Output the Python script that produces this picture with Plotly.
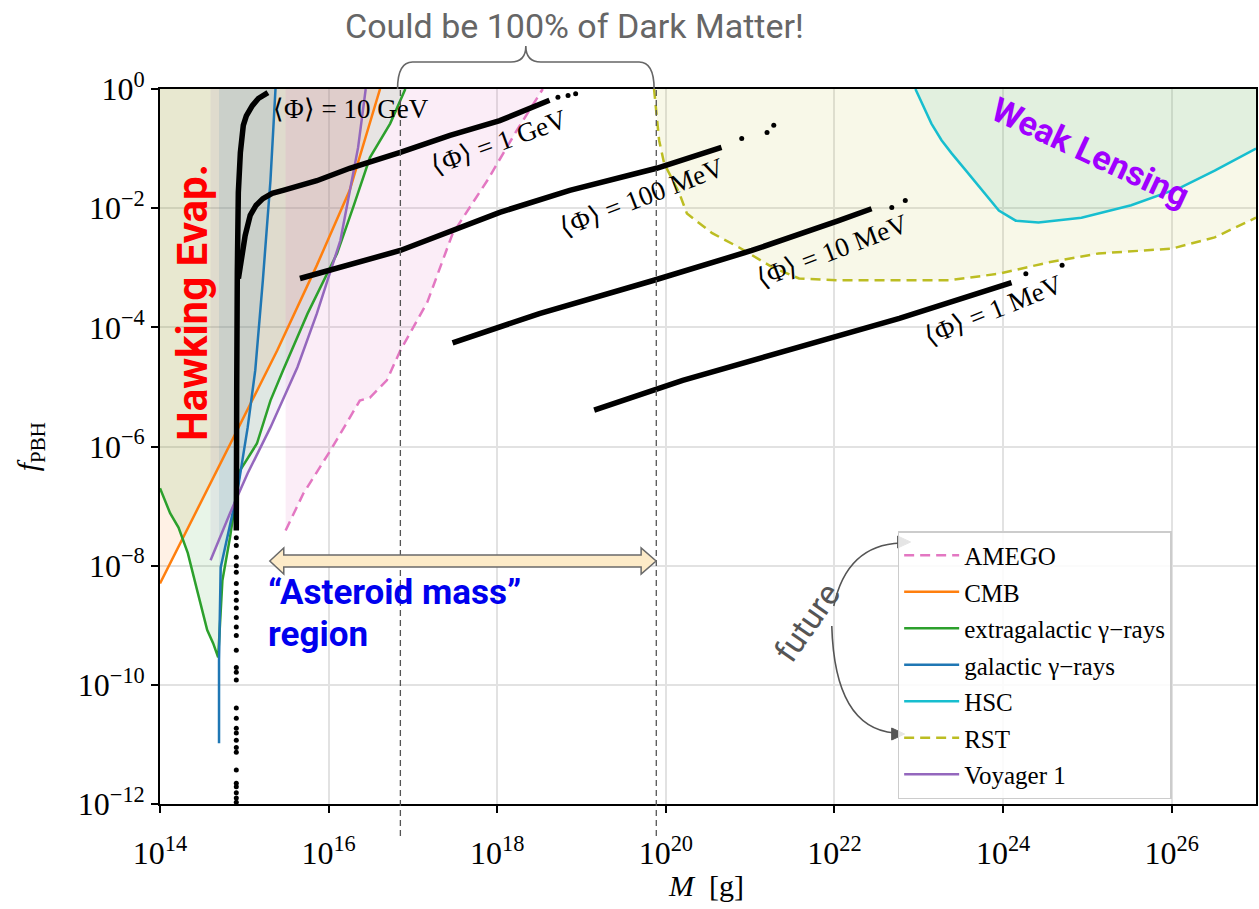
import plotly.graph_objects as go

# ---------------- data (log10 M [g], log10 f_PBH) ----------------
amego_logM = [15.49, 15.70, 16.02, 16.37, 16.49, 16.69, 16.85, 17.17, 17.47, 17.88, 18.23, 18.54]
amego_logf = [-7.41, -6.79, -6.07, -5.23, -5.18, -4.89, -4.39, -3.58, -2.43, -1.54, -0.70, 0.0]

cmb_logM = [14.0, 14.89, 15.39, 15.86, 16.25, 16.61]
cmb_logf = [-8.30, -5.81, -4.39, -2.96, -1.70, 0.0]

egal_logM = [14.0, 14.12, 14.22, 14.33, 14.44, 14.56, 14.63, 14.69, 14.74, 14.83, 14.95,
             15.15, 15.31, 15.46, 15.75, 16.10, 16.29, 16.49, 16.73, 16.91]
egal_logf = [-6.70, -7.12, -7.36, -7.79, -8.41, -9.08, -9.30, -9.54, -8.25, -7.53, -6.40,
             -5.95, -5.23, -4.72, -3.77, -2.76, -1.99, -1.15, -0.58, 0.0]

gal_logM = [14.70, 14.70, 14.72, 14.80, 14.92, 15.04, 15.13, 15.22, 15.31, 15.37]
gal_logf = [-10.98, -9.59, -8.03, -7.53, -6.74, -5.68, -4.72, -3.21, -1.54, 0.0]

hsc_logM = [22.96, 23.15, 23.27, 23.39, 23.56, 23.75, 23.95, 24.15, 24.42, 24.93, 25.52, 26.11, 26.51, 27.0]
hsc_logf = [0.0, -0.58, -0.86, -1.08, -1.37, -1.70, -2.04, -2.21, -2.24, -2.16, -1.95, -1.65, -1.37, -1.00]

rst_logM = [19.86, 19.89, 19.92, 19.98, 20.08, 20.16, 20.25, 20.55, 20.87, 21.26, 21.58, 22.05,
            22.76, 23.36, 23.95, 24.54, 25.13, 26.00, 26.51, 27.0]
rst_logf = [0.0, -0.41, -0.86, -1.25, -1.54, -1.75, -2.09, -2.42, -2.66, -2.99, -3.18, -3.21,
            -3.21, -3.21, -3.10, -2.91, -2.76, -2.68, -2.49, -2.16]

voy_logM = [14.60, 14.83, 15.04, 15.31, 15.63, 15.86, 16.14, 16.25, 16.35, 16.44]
voy_logf = [-7.91, -7.12, -6.45, -5.68, -4.67, -3.77, -2.54, -1.70, -0.98, 0.0]

# <Phi> curves (black scatter bands)
phi10GeV_logM = [15.28, 15.166, 15.095, 15.024, 14.988, 14.964, 14.953, 14.929, 14.929, 14.917, 14.910, 14.905]
phi10GeV_logf = [-0.06, -0.16, -0.28, -0.45, -0.61, -0.83, -1.07, -1.74, -2.46, -3.08, -5.00, -7.41]
phi10GeV_dots_logM = [14.905] * 29
phi10GeV_dots_logf = [-7.53, -7.66, -7.86, -8.00, -8.11, -8.30, -8.45, -8.58, -8.71, -8.87,
                      -9.03, -9.17, -9.42, -9.71, -9.79, -9.92, -10.39, -10.56, -10.73, -10.81,
                      -10.93, -11.05, -11.13, -11.43, -11.65, -11.71, -11.81, -11.90, -11.97]

phi1GeV_logM = [14.93, 14.964, 15.01, 15.07, 15.14, 15.22, 15.33, 15.46, 15.66, 15.86, 16.25,
                16.85, 17.44, 18.03, 18.62]
phi1GeV_logf = [-3.18, -2.84, -2.46, -2.12, -1.95, -1.84, -1.75, -1.70, -1.62, -1.54, -1.33,
                -1.065, -0.78, -0.53, -0.19]
phi1GeV_dots_logM = [18.72, 18.84, 18.93]
phi1GeV_dots_logf = [-0.14, -0.11, -0.08]

phi100MeV_logM = [15.66, 16.85, 18.03, 18.86, 19.89, 20.66]
phi100MeV_logf = [-3.18, -2.71, -2.07, -1.70, -1.33, -0.98]
phi100MeV_dots_logM = [20.90, 21.20, 21.28]
phi100MeV_dots_logf = [-0.83, -0.73, -0.61]

phi10MeV_logM = [17.47, 18.50, 19.86, 21.02, 22.05, 22.44]
phi10MeV_logf = [-4.26, -3.77, -3.21, -2.71, -2.21, -2.01]
phi10MeV_dots_logM = [22.68, 22.84]
phi10MeV_dots_logf = [-1.99, -1.87]

phi1MeV_logM = [19.15, 20.20, 22.77, 24.10]
phi1MeV_logf = [-5.39, -4.89, -3.85, -3.25]
phi1MeV_dots_logM = [24.27, 24.70]
phi1MeV_dots_logf = [-3.10, -2.96]

dm_window_M = [7.1e16, 7.7e19]          # dashed "asteroid mass" window edges

x_tickvals = [1e14, 1e16, 1e18, 1e20, 1e22, 1e24, 1e26]
x_ticktext = ["10<sup>14</sup>", "10<sup>16</sup>", "10<sup>18</sup>", "10<sup>20</sup>",
              "10<sup>22</sup>", "10<sup>24</sup>", "10<sup>26</sup>"]
y_tickvals = [1e0, 1e-2, 1e-4, 1e-6, 1e-8, 1e-10, 1e-12]
y_ticktext = ["10<sup>0</sup>", "10<sup>\u22122</sup>", "10<sup>\u22124</sup>", "10<sup>\u22126</sup>",
              "10<sup>\u22128</sup>", "10<sup>\u221210</sup>", "10<sup>\u221212</sup>"]

# ---------------- styling ----------------
W, H = 1259, 909
L, R, T, B = 160, 1258, 89, 804
SERIF = "Liberation Serif"
SANS = "Roboto"

C_PINK, C_ORANGE, C_GREEN = "#e377c2", "#ff7f0e", "#2ca02c"
C_BLUE, C_CYAN, C_OLIVE, C_PURPLE = "#1f77b4", "#17becf", "#bcbd22", "#9467bd"


def PX(x):
    return (x - L) / (R - L)


def PY(y):
    return (B - y) / (B - T)


def tolin(v):
    return [10 ** a for a in v]


fig = go.Figure()

# filled excluded regions (above each curve up to f = 1)
fills = [
    (cmb_logM, cmb_logf, "rgba(255,127,14,0.11)"),
    (egal_logM, egal_logf, "rgba(44,160,44,0.11)"),
    (voy_logM, voy_logf, "rgba(148,103,189,0.10)"),
    (gal_logM, gal_logf, "rgba(31,119,180,0.10)"),
    (amego_logM, amego_logf, "rgba(227,119,194,0.13)"),
    (rst_logM, rst_logf, "rgba(188,189,34,0.10)"),
    (hsc_logM, hsc_logf, "rgba(40,180,150,0.10)"),
]
for lm, lf, fc in fills:
    xs = tolin(lm) + [10 ** lm[-1], 10 ** lm[0]]
    ys = tolin(lf) + [1.0, 1.0]
    fig.add_trace(go.Scatter(x=xs, y=ys, mode="lines", line=dict(width=0), fill="toself",
                             fillcolor=fc, showlegend=False, hoverinfo="skip"))

# constraint curves (legend order)
curves = [
    ("AMEGO", amego_logM, amego_logf, C_PINK, "10px,6px"),
    ("CMB", cmb_logM, cmb_logf, C_ORANGE, "solid"),
    ("extragalactic \u03b3\u2212rays", egal_logM, egal_logf, C_GREEN, "solid"),
    ("galactic \u03b3\u2212rays", gal_logM, gal_logf, C_BLUE, "solid"),
    ("HSC", hsc_logM, hsc_logf, C_CYAN, "solid"),
    ("RST", rst_logM, rst_logf, C_OLIVE, "10px,6px"),
    ("Voyager 1", voy_logM, voy_logf, C_PURPLE, "solid"),
]
for i, (name, lm, lf, col, dash) in enumerate(curves):
    fig.add_trace(go.Scatter(x=tolin(lm), y=tolin(lf), mode="lines", name=name,
                             legendgroup="g%d" % i,
                             line=dict(color=col, width=2.5, dash=dash)))

# black <Phi> bands
bands = [
    (phi10GeV_logM, phi10GeV_logf, [], []),
    (phi1GeV_logM, phi1GeV_logf, phi1GeV_dots_logM, phi1GeV_dots_logf),
    (phi100MeV_logM, phi100MeV_logf, phi100MeV_dots_logM, phi100MeV_dots_logf),
    (phi10MeV_logM, phi10MeV_logf, phi10MeV_dots_logM, phi10MeV_dots_logf),
    (phi1MeV_logM, phi1MeV_logf, phi1MeV_dots_logM, phi1MeV_dots_logf),
]
for lm, lf, dm, df in bands:
    fig.add_trace(go.Scatter(x=tolin(lm), y=tolin(lf), mode="lines",
                             line=dict(color="black", width=5.5),
                             showlegend=False, hoverinfo="skip"))
    if dm:
        fig.add_trace(go.Scatter(x=tolin(dm), y=tolin(df), mode="markers",
                                 marker=dict(color="black", size=5),
                                 showlegend=False, hoverinfo="skip"))
fig.add_trace(go.Scatter(x=tolin(phi10GeV_dots_logM), y=tolin(phi10GeV_dots_logf), mode="markers",
                         marker=dict(color="black", size=5), showlegend=False, hoverinfo="skip"))

shapes = []
# dashed window lines
for m in dm_window_M:
    shapes.append(dict(type="line", xref="x", yref="paper", x0=m, x1=m, y0=PY(836), y1=1,
                       line=dict(color="#555555", width=1.3, dash="6px,4px"), layer="above"))

# curly brace above the plot
bl, br, bt = 398, 655, 62
mid = (bl + br) / 2
brace = ("M {},{} Q {},{} {},{} L {},{} Q {},{} {},{} Q {},{} {},{} L {},{} Q {},{} {},{}"
         .format(PX(bl), PY(89), PX(bl), PY(bt), PX(bl + 15), PY(bt),
                 PX(mid - 15), PY(bt), PX(mid), PY(bt), PX(mid), PY(46),
                 PX(mid), PY(bt), PX(mid + 15), PY(bt),
                 PX(br - 15), PY(bt), PX(br), PY(bt), PX(br), PY(89)))
shapes.append(dict(type="path", xref="paper", yref="paper", path=brace,
                   line=dict(color="#666666", width=1.6)))

# double-headed arrow
yc = 561
pts = [(270, yc), (284, yc - 13), (284, yc - 6), (642, yc - 6), (642, yc - 13), (657, yc),
       (642, yc + 13), (642, yc + 6), (284, yc + 6), (284, yc + 13)]
arrow = "M " + " L ".join("{},{}".format(PX(a), PY(b)) for a, b in pts) + " Z"
shapes.append(dict(type="path", xref="paper", yref="paper", path=arrow,
                   fillcolor="#fdebc8", line=dict(color="#6a6a6a", width=1.5), layer="above"))

# curved "future" arrows
up = "M {},{} Q {},{} {},{}".format(PX(835), PY(606), PX(848), PY(545), PX(902), PY(543))
dn = "M {},{} Q {},{} {},{}".format(PX(833), PY(626), PX(836), PY(728), PX(896), PY(733))
for p in (up, dn):
    shapes.append(dict(type="path", xref="paper", yref="paper", path=p,
                       line=dict(color="#555555", width=1.6), layer="above"))
for (tx, ty) in [(912, 542), (906, 734)]:
    tri = "M {},{} L {},{} L {},{} Z".format(PX(tx), PY(ty), PX(tx - 13), PY(ty - 6), PX(tx - 13), PY(ty + 6))
    shapes.append(dict(type="path", xref="paper", yref="paper", path=tri,
                       fillcolor="#555555", line=dict(color="#555555", width=1), layer="above"))

annotations = []


def ann(text, x, y, size, color="black", family=SERIF, angle=0, xanchor="center", **kw):
    annotations.append(dict(text=text, x=PX(x), y=PY(y), xref="paper", yref="paper",
                            showarrow=False, textangle=angle,
                            font=dict(family=family, size=size, color=color),
                            xanchor=xanchor, yanchor="middle", **kw))


ann("Could be 100% of Dark Matter!", 575, 26, 34, color="#666666", family=SANS)
ann("<b>Hawking Evap.</b>", 192, 302, 42, color="#ff0000", family=SANS, angle=-90)
ann("<b>\u201cAsteroid mass\u201d</b>", 266, 592, 35, color="#0000ee", family=SANS, xanchor="left")
ann("<b>region</b>", 266, 634, 35, color="#0000ee", family=SANS, xanchor="left")
ann("<b>Weak Lensing</b>", 1092, 152, 34, color="#a000ff", family=SANS, angle=25)
ann("future", 808, 622, 33, color="#555555", family=SANS, angle=-55)

ann("\u27e8\u03a6\u27e9 = 10 GeV", 351, 109, 27)
ann("\u27e8\u03a6\u27e9 = 1 GeV", 500, 142, 27, angle=-20)
ann("\u27e8\u03a6\u27e9 = 100 MeV", 643, 197, 27, angle=-21)
ann("\u27e8\u03a6\u27e9 = 10 MeV", 833, 251, 27, angle=-21)
ann("\u27e8\u03a6\u27e9 = 1 MeV", 995, 310, 27, angle=-22)

ann("<i>M</i>  [g]", 707, 885, 30)
ann("<i>f</i><sub>PBH</sub>", 30, 447, 30, angle=-90)

axis_common = dict(type="log", showline=True, linecolor="black", linewidth=1.6, mirror=True,
                   ticks="outside", ticklen=7, tickwidth=1.5, tickcolor="black",
                   showgrid=True, gridcolor="#e2e2e2", gridwidth=1.5, zeroline=False,
                   tickfont=dict(family=SERIF, size=32, color="black"))

fig.update_layout(
    width=W, height=H,
    margin=dict(l=L, r=W - R, t=T, b=H - B),
    paper_bgcolor="white", plot_bgcolor="white",
    xaxis=dict(range=[14, 27], tickvals=x_tickvals, ticktext=x_ticktext,
               ticklabelstandoff=13, **axis_common),
    yaxis=dict(range=[-12, 0], tickvals=y_tickvals, ticktext=y_ticktext, **axis_common),
    legend=dict(x=PX(899), y=PY(531), xanchor="left", yanchor="top",
                bgcolor="rgba(255,255,255,0.85)", bordercolor="#cccccc", borderwidth=1.5,
                font=dict(family=SERIF, size=25, color="black"),
                tracegroupgap=1, itemwidth=55),
    shapes=shapes, annotations=annotations,
    showlegend=True,
)

fig.write_html("out.html")
